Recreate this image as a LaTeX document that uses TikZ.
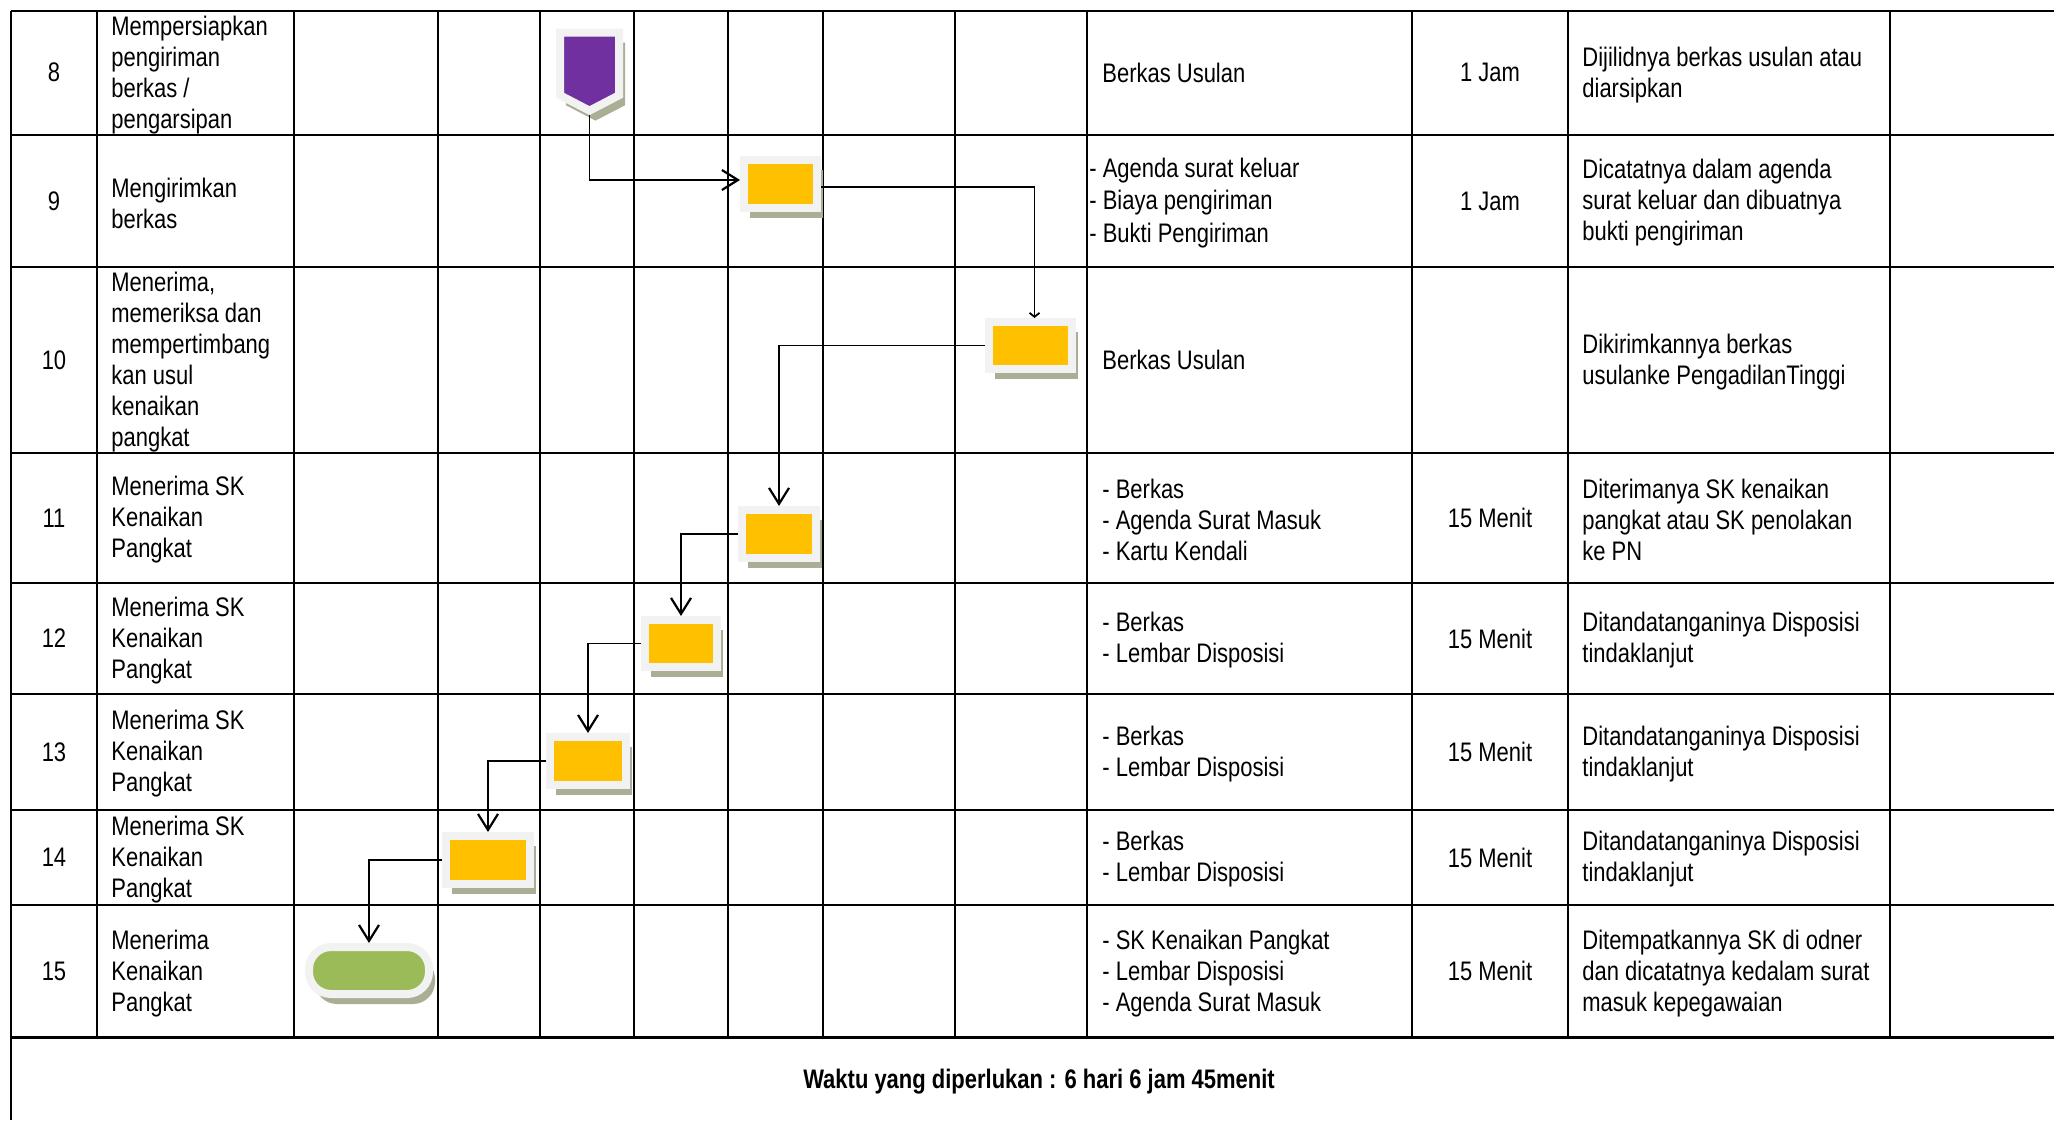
\documentclass[tikz,border=0pt]{standalone}
\usepackage{fontspec}
\setmainfont{Liberation Sans}[FakeStretch=0.82]
\usetikzlibrary{arrows.meta, shadows, shapes.symbols}

\definecolor{boxrim}{HTML}{F2F2F2}
\definecolor{boxshade}{HTML}{A9AF95}
\definecolor{procfill}{HTML}{FFC000}
\definecolor{offfill}{HTML}{7030A0}
\definecolor{endfill}{HTML}{9BBB59}

\begin{document}
\begin{tikzpicture}[x=0.5pt, y=-0.5pt, >={Straight Barb[length=8pt, width=10pt, line width=1.1pt]},
		font=\fontsize{13.4}{15.5}\selectfont]
		\tikzstyle{grid} = [line width=1pt]
		\tikzstyle{flow} = [line width=0.9pt, ->]
		\tikzstyle{shade} = [drop shadow={shadow xshift=3pt, shadow yshift=-5pt, fill=boxshade, opacity=1}]
		\tikzstyle{proc} = [draw=boxrim, fill=procfill, line width=4pt, minimum height=24pt, shade]
		\tikzstyle{term} = [proc, fill=endfill, rounded corners=11pt]
		\tikzstyle{offpage} = [signal, signal to=south, signal from=nowhere, signal pointer angle=125,
			draw=boxrim, fill=offfill, line width=4pt, minimum width=29.5pt, minimum height=33pt, shade]
		\tikzstyle{txt} = [anchor=west, align=left, inner sep=0pt, yshift=-1pt]
		\tikzstyle{mid} = [align=center, inner sep=0pt]
		
		\useasboundingbox (0,0) rectangle (2054,1120);
		
		% table
		\draw[grid]
		(10.5,10.5) -- (2054,10.5) (10.5,135) -- (2054,135) (10.5,267) -- (2054,267)
		(10.5,453) -- (2054,453) (10.5,583) -- (2054,583) (10.5,694) -- (2054,694)
		(10.5,810) -- (2054,810) (10.5,905) -- (2054,905);
		\draw[line width=1.5pt] (10.5,1037.5) -- (2054,1037.5);
		\draw[grid]
		(10.5,10.5) -- (10.5,1120) (97,10.5) -- (97,1037.5) (294,10.5) -- (294,1037.5)
		(437.5,10.5) -- (437.5,1037.5) (540,10.5) -- (540,1037.5) (634,10.5) -- (634,1037.5)
		(728,10.5) -- (728,1037.5) (823,10.5) -- (823,1037.5) (955,10.5) -- (955,1037.5)
		(1087,10.5) -- (1087,1037.5) (1412,10.5) -- (1412,1037.5) (1568,10.5) -- (1568,1037.5)
		(1890,10.5) -- (1890,1037.5);
		
		% row numbers
		\node[mid] at (54,72.75) (n8) {8};
		\node[mid] at (54,201) (n9) {9};
		\node[mid] at (54,360) (n10) {10};
		\node[mid] at (54,518) (n11) {11};
		\node[mid] at (54,638.5) (n12) {12};
		\node[mid] at (54,752) (n13) {13};
		\node[mid] at (54,857.5) (n14) {14};
		\node[mid] at (54,971.25) (n15) {15};
		
		% activities
		\node[txt] at (111,72.75) (act8) {Mempersiapkan\\pengiriman\\berkas /\\pengarsipan};
		\node[txt] at (111,201) (act9) {Mengirimkan\\berkas};
		\node[txt] at (111,360) (act10) {Menerima,\\memeriksa dan\\mempertimbang\\kan usul\\kenaikan\\pangkat};
		\node[txt] at (111,518) (act11) {Menerima SK\\Kenaikan\\Pangkat};
		\node[txt] at (111,638.5) (act12) {Menerima SK\\Kenaikan\\Pangkat};
		\node[txt] at (111,752) (act13) {Menerima SK\\Kenaikan\\Pangkat};
		\node[txt] at (111,857.5) (act14) {Menerima SK\\Kenaikan\\Pangkat};
		\node[txt] at (111,971.25) (act15) {Menerima\\Kenaikan\\Pangkat};
		
		% flow symbols
		\node[offpage] at (589.5,64) (off8) {};
		\node[proc, minimum width=36.5pt] at (780.5,184) (b9) {};
		\node[proc, minimum width=41.5pt, minimum height=23.5pt] at (1030.5,345.5) (b10) {};
		\node[proc, minimum width=36.8pt] at (779,534) (b11) {};
		\node[proc, minimum width=36pt, minimum height=23.5pt] at (681,643.5) (b12) {};
		\node[proc, minimum width=38pt] at (588,761) (b13) {};
		\node[proc, minimum width=42pt] at (488,860) (b14) {};
		\node[term, minimum width=60pt, minimum height=23.5pt] at (369,970.5) (e15) {};
		
		\draw[flow] (off8.south) |- ([yshift=2pt]b9.west);
		\draw[flow, -{Straight Barb[length=2pt, width=5pt]}] ([yshift=-1.5pt]b9.east) -| ([xshift=2pt]b10.north);
		\draw[flow] (b10.west) -| (b11.north);
		\draw[flow] (b11.west) -| (b12.north);
		\draw[flow] (b12.west) -| (b13.north);
		\draw[flow] (b13.west) -| (b14.north);
		\draw[flow] (b14.west) -| (e15.north);
		
		% inputs
		\node[txt, yshift=1pt] at (1102,72.75) (in8) {Berkas Usulan};
		\node[txt, font=\fontsize{13.4}{16.4}\selectfont] at (1089,201) (in9) {- Agenda surat keluar\\- Biaya pengiriman\\- Bukti Pengiriman};
		\node[txt, yshift=1pt] at (1102,360) (in10) {Berkas Usulan};
		\node[txt] at (1102,518) (in11) {- Berkas\\- Agenda Surat Masuk\\- Kartu Kendali};
		\node[txt] at (1102,638.5) (in12) {- Berkas\\- Lembar Disposisi};
		\node[txt] at (1102,752) (in13) {- Berkas\\- Lembar Disposisi};
		\node[txt] at (1102,857.5) (in14) {- Berkas\\- Lembar Disposisi};
		\node[txt] at (1102,971.25) (in15) {- SK Kenaikan Pangkat\\- Lembar Disposisi\\- Agenda Surat Masuk};
		
		% time
		\node[mid] at (1490,72.75) (t8) {1 Jam};
		\node[mid] at (1490,201) (t9) {1 Jam};
		\node[mid] at (1490,518) (t11) {15 Menit};
		\node[mid] at (1490,638.5) (t12) {15 Menit};
		\node[mid] at (1490,752) (t13) {15 Menit};
		\node[mid] at (1490,857.5) (t14) {15 Menit};
		\node[mid] at (1490,971.25) (t15) {15 Menit};
		
		% outputs
		\node[txt] at (1582,72.75) (out8) {Dijilidnya berkas usulan atau\\diarsipkan};
		\node[txt] at (1582,201) (out9) {Dicatatnya dalam agenda\\surat keluar dan dibuatnya\\bukti pengiriman};
		\node[txt] at (1582,360) (out10) {Dikirimkannya berkas\\usulanke PengadilanTinggi};
		\node[txt] at (1582,518) (out11) {Diterimanya SK kenaikan\\pangkat atau SK penolakan\\ke PN};
		\node[txt] at (1582,638.5) (out12) {Ditandatanganinya Disposisi\\tindaklanjut};
		\node[txt] at (1582,752) (out13) {Ditandatanganinya Disposisi\\tindaklanjut};
		\node[txt] at (1582,857.5) (out14) {Ditandatanganinya Disposisi\\tindaklanjut};
		\node[txt] at (1582,971.25) (out15) {Ditempatkannya SK di odner\\dan dicatatnya kedalam surat\\masuk kepegawaian};
		
		\node[mid, font=\fontsize{13.4}{15.5}\selectfont\bfseries] at (1039,1082) (total) {Waktu yang diperlukan : 6 hari 6 jam 45menit};
		\end{tikzpicture}
\end{document}
